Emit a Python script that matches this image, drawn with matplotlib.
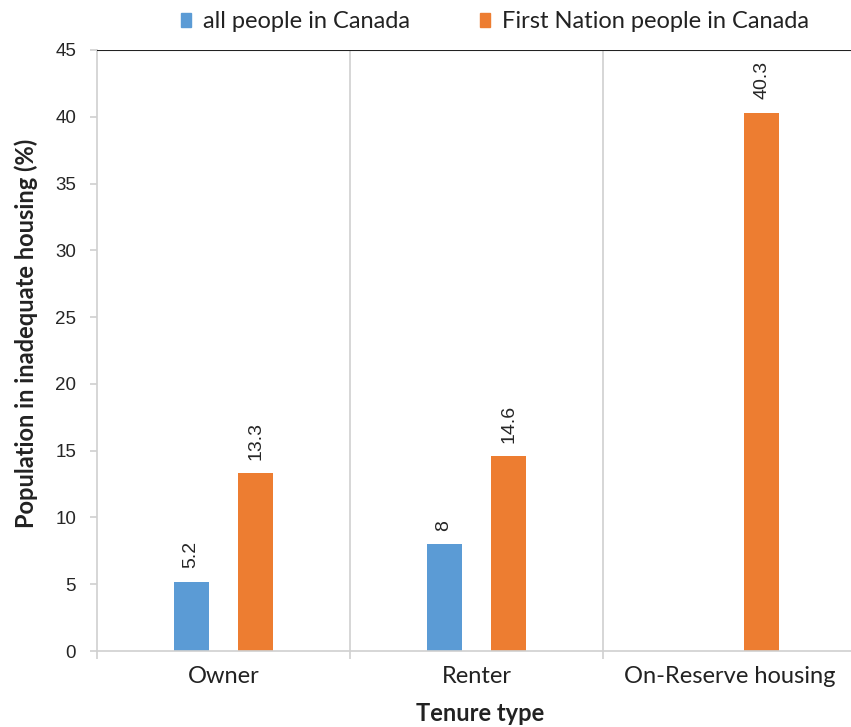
import matplotlib.pyplot as plt
import numpy as np

# Data
categories = ['Owner', 'Renter', 'On-Reserve housing']
series_names = ['all people in Canada', 'First Nation people in Canada']
all_people = [5.2, 8, None]
first_nation = [13.3, 14.6, 40.3]
value_labels_all = ['5.2', '8', '']
value_labels_fn = ['13.3', '14.6', '40.3']
yticks = [0, 5, 10, 15, 20, 25, 30, 35, 40, 45]

blue = '#5B9BD5'
orange = '#ED7D31'

fig = plt.figure(figsize=(8.51, 7.27), dpi=100)
ax = fig.add_axes([97 / 851, (727 - 651) / 727, 759 / 851, 601 / 727])

x = np.arange(len(categories)) + 0.5
off = 0.128
w = 0.138

for i in range(len(categories)):
    if all_people[i] is not None:
        ax.bar(x[i] - off, all_people[i], width=w, color=blue)
        ax.text(x[i] - off, all_people[i] + 1.0, value_labels_all[i], rotation=90,
                ha='center', va='bottom', fontsize=14, family='Liberation Sans', color='#262626')
    ax.bar(x[i] + off, first_nation[i], width=w, color=orange)
    ax.text(x[i] + off, first_nation[i] + 1.0, value_labels_fn[i], rotation=90,
            ha='center', va='bottom', fontsize=14, family='Liberation Sans', color='#262626')

ax.set_xlim(0, 3)
ax.set_ylim(0, 45)
ax.set_yticks(yticks)
ax.set_yticklabels([str(t) for t in yticks], family='Liberation Sans', fontsize=13.5,
                   color='#262626')

# category separators
for b in [1, 2]:
    ax.axvline(b, color='#d0d0d0', lw=1.2, zorder=0)
ax.set_xticks([0, 1, 2, 3])
ax.set_xticklabels([])
ax.set_xticks(x, minor=True)
ax.set_xticklabels(categories, minor=True, family='Lato', fontsize=17, color='#222222')
ax.tick_params(axis='x', which='minor', length=0, pad=11)
ax.tick_params(axis='x', which='major', length=6, color='#d0d0d0', width=1.2)
ax.tick_params(axis='y', length=5, color='#d0d0d0', width=1.2, pad=10)

ax.axhline(45, color='#222222', lw=1.5, zorder=3)
ax.spines['top'].set_visible(False)
ax.spines['right'].set_visible(False)
ax.spines['left'].set_color('#d0d0d0')
ax.spines['left'].set_linewidth(1.2)
ax.spines['bottom'].set_color('#d0d0d0')
ax.spines['bottom'].set_linewidth(1.2)

ax.set_xlabel('Tenure type', family='Lato', fontweight='bold', fontsize=17, color='#222222')
ax.xaxis.set_label_coords((480 - 97) / 759, (651 - 702) / 601)
ax.set_ylabel('Population in inadequate housing (%)', family='Lato', fontweight='bold',
              fontsize=17, color='#222222')
ax.yaxis.set_label_coords((38 - 97) / 759, (651 - 333) / 601)

# legend at top
handles = [plt.Rectangle((0, 0), 1, 1, color=blue), plt.Rectangle((0, 0), 1, 1, color=orange)]
fig.legend(handles, series_names, loc='center', bbox_to_anchor=(495 / 851, 1 - 22 / 727),
           ncol=2, frameon=False, prop={'family': 'Lato', 'size': 17},
           handlelength=0.4, handleheight=0.55, handletextpad=0.5, columnspacing=3.0,
           labelcolor='#222222')

fig.savefig('out.png', dpi=100)
